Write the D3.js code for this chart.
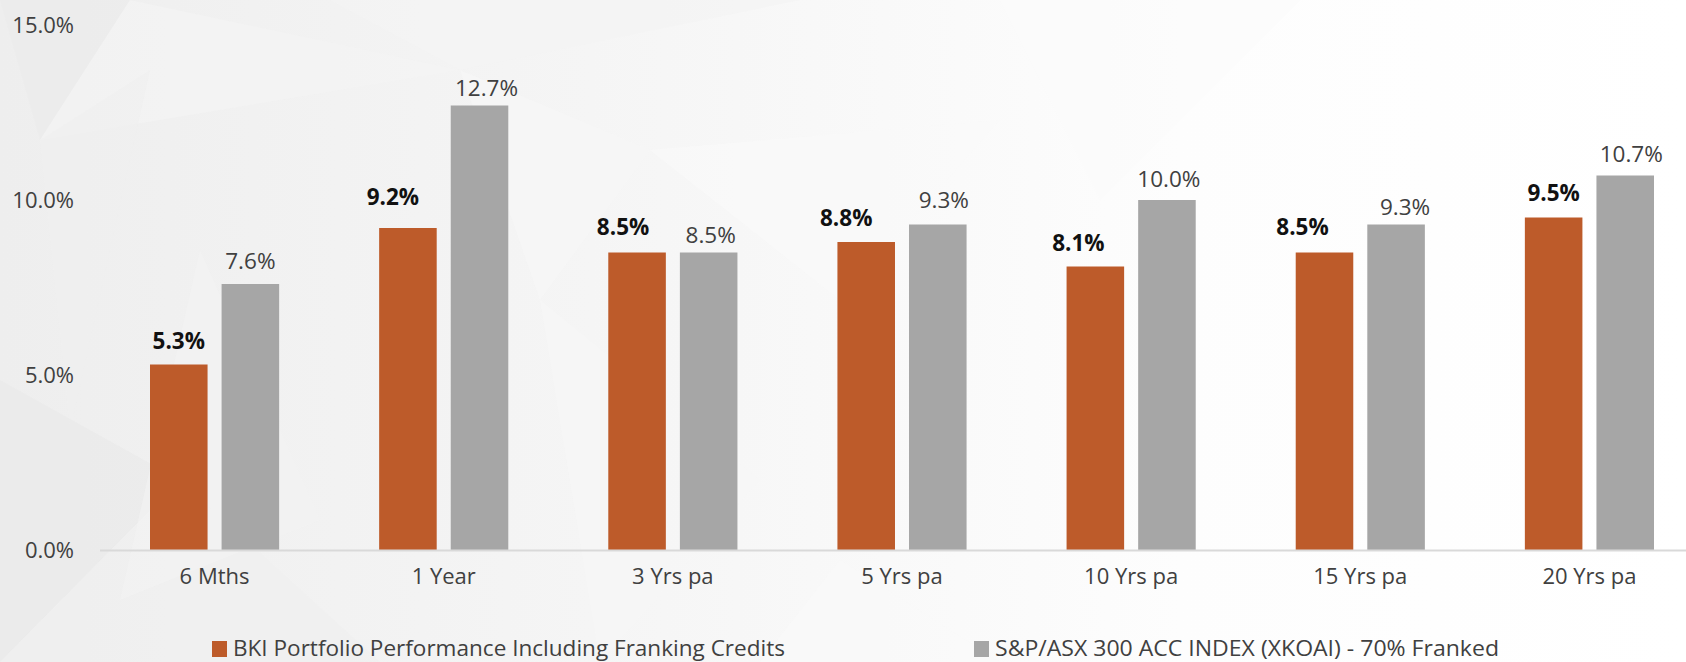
<!DOCTYPE html>
<html>
<head>
<meta charset="utf-8">
<script src="https://cdn.jsdelivr.net/npm/d3@7"></script>
<style>
  html, body { margin: 0; padding: 0; background: #ffffff; }
  svg { display: block; }
  text { font-family: "Open Sans", "Noto Sans", sans-serif; }
</style>
</head>
<body>
<svg id="chart" width="1686" height="662"></svg>
<script>
// ---- data ----
const categories = ["6 Mths", "1 Year", "3 Yrs pa", "5 Yrs pa", "10 Yrs pa", "15 Yrs pa", "20 Yrs pa"];
const seriesNames = ["BKI Portfolio Performance Including Franking Credits", "S&P/ASX 300 ACC INDEX (XKOAI) - 70% Franked"];
const bkiValues = [5.3, 9.2, 8.5, 8.8, 8.1, 8.5, 9.5];
const indexValues = [7.6, 12.7, 8.5, 9.3, 10.0, 9.3, 10.7];
const yTicks = [0, 5, 10, 15];
// manual label nudges seen in the original (px)
const bkiLabelDx = [0, -15, -14, -20, -17, -22, 0];
const bkiLabelLift = [16, 23, 18, 16, 16, 18, 17];
const indexLabelDx = [0, 7, 2, 6, 2, 9, 6];
const indexLabelLift = [15, 10, 10, 17, 13, 10, 14];

const colors = ["#BD5B2A", "#A6A6A6"];

const svg = d3.select("#chart");
const W = 1686, H = 662;

// ---- background (soft low-poly grey fading to white) ----
const defs = svg.append("defs");
const grad = defs.append("linearGradient").attr("id", "bg").attr("x1", "0").attr("x2", "1").attr("y1", "0").attr("y2", "0");
grad.append("stop").attr("offset", "0%").attr("stop-color", "#eeeeee");
grad.append("stop").attr("offset", "35%").attr("stop-color", "#f5f5f5");
grad.append("stop").attr("offset", "70%").attr("stop-color", "#fdfdfd");
grad.append("stop").attr("offset", "100%").attr("stop-color", "#ffffff");
svg.append("rect").attr("width", W).attr("height", H).attr("fill", "url(#bg)");
const polys = [
  [[0,0],[130,0],[40,140]],
  [[130,0],[460,70],[40,140]],
  [[40,140],[150,70],[70,430]],
  [[0,380],[180,480],[0,662]],
  [[180,480],[380,662],[0,662]],
  [[460,70],[650,150],[540,300]],
  [[330,0],[800,0],[460,70]],
  [[650,150],[1000,120],[840,300]],
  [[1000,0],[1300,0],[1100,200]],
  [[200,250],[320,520],[120,600]],
  [[540,300],[760,480],[600,662]],
  [[840,560],[1000,662],[760,662]]
];
const polyFills = ["#ebebeb","#f3f3f3","#f0f0f0","#e9e9e9","#efefef","#f6f6f6","#f4f4f4","#fafafa","#fbfbfb","#f2f2f2","#f7f7f7","#fafafa"];
svg.append("g").selectAll("polygon").data(polys).join("polygon")
  .attr("points", d => d.map(p => p.join(",")).join(" "))
  .attr("fill", (d, i) => polyFills[i])
  .attr("opacity", 0.7);

// ---- scales ----
const x0 = d3.scaleBand().domain(categories).range([100, 1704]).paddingInner(0).paddingOuter(0);
const x1 = d3.scaleBand().domain([0, 1]).range([50, x0.bandwidth() - 50]).paddingInner(0.196).paddingOuter(0);
const y = d3.scaleLinear().domain([0, 15]).range([550, 25]);

// ---- y tick labels ----
svg.append("g").selectAll("text").data(yTicks).join("text")
  .attr("x", 74).attr("y", d => y(d) + 8)
  .attr("text-anchor", "end")
  .attr("font-size", 22).attr("fill", "#404040")
  .text(d => d3.format(".1f")(d) + "%");

// ---- bars ----
const rows = categories.map((c, i) => ({ c, i, vals: [bkiValues[i], indexValues[i]] }));
const groups = svg.append("g").selectAll("g").data(rows).join("g")
  .attr("transform", d => `translate(${x0(d.c)},0)`);
groups.selectAll("rect").data(d => d.vals.map((v, s) => ({ v, s }))).join("rect")
  .attr("x", d => x1(d.s))
  .attr("width", x1.bandwidth())
  .attr("y", d => y(d.v))
  .attr("height", d => y(0) - y(d.v))
  .attr("fill", d => colors[d.s]);

// ---- data labels ----
groups.append("text")
  .attr("x", d => x1(0) + x1.bandwidth() / 2 + bkiLabelDx[d.i])
  .attr("y", d => y(d.vals[0]) - bkiLabelLift[d.i])
  .attr("text-anchor", "middle")
  .attr("font-size", 22.5).attr("font-weight", 700).attr("fill", "#111")
  .text(d => d3.format(".1f")(d.vals[0]) + "%");
groups.append("text")
  .attr("x", d => x1(1) + x1.bandwidth() / 2 + indexLabelDx[d.i])
  .attr("y", d => y(d.vals[1]) - indexLabelLift[d.i])
  .attr("text-anchor", "middle")
  .attr("font-size", 22.5).attr("fill", "#404040")
  .text(d => d3.format(".1f")(d.vals[1]) + "%");

// ---- x axis ----
svg.append("line")
  .attr("x1", 100).attr("x2", W).attr("y1", y(0) + 0.5).attr("y2", y(0) + 0.5)
  .attr("stroke", "#d9d9d9").attr("stroke-width", 2);
svg.append("g").selectAll("text").data(categories).join("text")
  .attr("x", d => x0(d) + x0.bandwidth() / 2)
  .attr("y", 584)
  .attr("text-anchor", "middle")
  .attr("font-size", 22).attr("fill", "#404040")
  .text(d => d);

// ---- legend ----
const legendX = [212, 974];
const legendLen = [552, 504];
const lg = svg.append("g").selectAll("g").data(seriesNames).join("g");
lg.append("rect")
  .attr("x", (d, i) => legendX[i]).attr("y", 641)
  .attr("width", 15).attr("height", 16)
  .attr("fill", (d, i) => colors[i]);
lg.append("text")
  .attr("x", (d, i) => legendX[i] + 21).attr("y", 656)
  .attr("font-size", 22).attr("fill", "#404040")
  .attr("textLength", (d, i) => legendLen[i])
  .attr("lengthAdjust", "spacingAndGlyphs")
  .text(d => d);
</script>
</body>
</html>
